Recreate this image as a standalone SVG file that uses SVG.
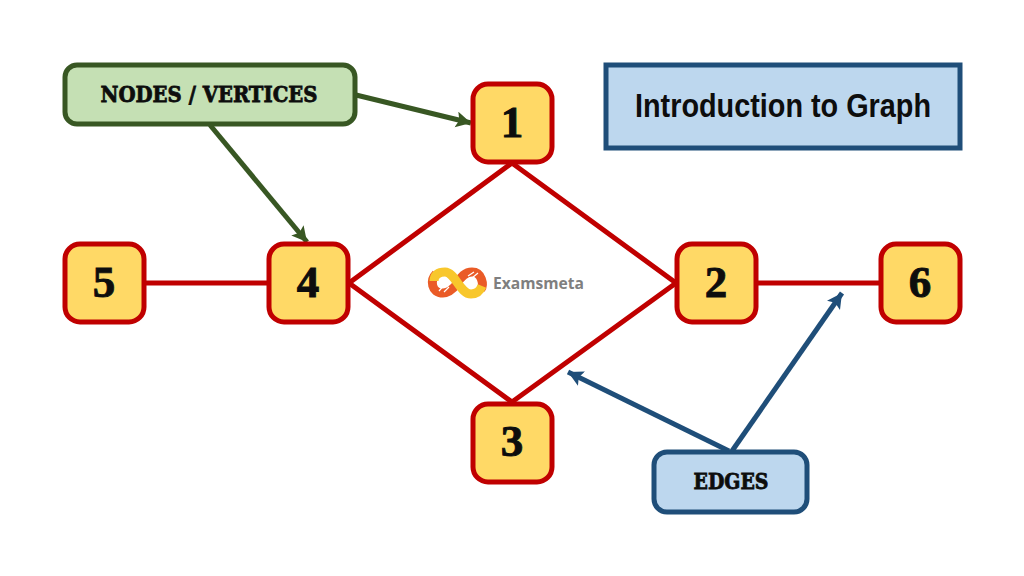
<svg xmlns="http://www.w3.org/2000/svg" width="1024" height="576" viewBox="0 0 1024 576">
<style>
.node rect{fill:#ffd966;stroke:#c00000;stroke-width:5}
.node text{font-family:"Liberation Serif",serif;font-weight:700;font-size:45px;fill:#0d0d0d;text-anchor:middle;stroke:#0d0d0d;stroke-width:.9}
.label{font-family:"DejaVu Serif",serif;font-weight:900;fill:#0d0d0d;text-anchor:middle;stroke:#0d0d0d;stroke-width:.8}
.edge{stroke:#c00000;stroke-width:5;fill:none}
.g{stroke:#385723;stroke-width:5;fill:none}
.b{stroke:#1f4e79;stroke-width:5;fill:none}
.lo{fill:none;stroke:#ea5b27;stroke-width:9}
.ly{fill:none;stroke:#f8c72c;stroke-width:9}
.lw{fill:none;stroke:#ffffff;stroke-width:1.2}
</style>
<defs>
<marker id="ag" markerUnits="userSpaceOnUse" markerWidth="18" markerHeight="18" refX="15" refY="8" orient="auto"><path d="M0 0L15 8L0 16L3 8Z" fill="#385723"/></marker>
<marker id="ab" markerUnits="userSpaceOnUse" markerWidth="18" markerHeight="18" refX="15" refY="8" orient="auto"><path d="M0 0L15 8L0 16L3 8Z" fill="#1f4e79"/></marker>
</defs>
<rect width="1024" height="576" fill="#ffffff"/>
<g id="connectors">
<path class="edge" d="M145 283H268"/>
<path class="edge" d="M757 283H880"/>
<path class="edge" d="M349 283L512 163L676 283L512 402Z"/>
<path class="g" d="M356 95L471 123" marker-end="url(#ag)"/>
<path class="g" d="M210 125L307 242" marker-end="url(#ag)"/>
<path class="b" d="M729 451L568 372" marker-end="url(#ab)"/>
<path class="b" d="M732 451L842 293" marker-end="url(#ab)"/>
</g>
<g id="node-1" class="node"><rect x="473" y="84" width="79" height="78" rx="15"/><text x="512" y="137">1</text></g>
<g id="node-2" class="node"><rect x="677" y="244" width="79" height="78" rx="15"/><text x="716" y="297">2</text></g>
<g id="node-3" class="node"><rect x="473" y="404" width="79" height="78" rx="15"/><text x="512" y="456">3</text></g>
<g id="node-4" class="node"><rect x="269" y="244" width="79" height="78" rx="15"/><text x="308" y="297">4</text></g>
<g id="node-5" class="node"><rect x="65" y="244" width="79" height="78" rx="15"/><text x="104" y="297">5</text></g>
<g id="node-6" class="node"><rect x="881" y="244" width="79" height="78" rx="15"/><text x="920" y="297">6</text></g>
<g id="label-nodes"><rect x="65" y="65" width="290" height="59" rx="12" fill="#c5e0b4" stroke="#385723" stroke-width="5"/><text class="label" x="209" y="102" font-size="22" textLength="217" lengthAdjust="spacingAndGlyphs">NODES / VERTICES</text></g>
<g id="title"><rect x="606" y="65" width="354" height="83" fill="#bdd7ee" stroke="#1f4e79" stroke-width="5"/><text x="783" y="117" font-family="'Liberation Sans',sans-serif" font-weight="700" font-size="33" fill="#0d0d0d" text-anchor="middle" textLength="296" lengthAdjust="spacingAndGlyphs">Introduction to Graph</text></g>
<g id="label-edges"><rect x="654" y="452" width="153" height="60" rx="13" fill="#bdd7ee" stroke="#1f4e79" stroke-width="5"/><text class="label" x="731" y="489" font-size="22" textLength="75" lengthAdjust="spacingAndGlyphs">EDGES</text></g>
<g id="logo">
<path class="lo" d="M436 274C430 280 431 293 443 293C449 293 453 289 457 284"/>
<path class="lo" d="M457 283C461 277 465 272 472 272C482 272 484 285 481 289"/>
<path class="ly" d="M434 281C434 275 438 272 445 272C455 272 460 294 471 294C476 294 480 291 482 286"/>
<path class="lw" d="M439 291L445 284M444 292L449 287M468 276L474 272M472 278L478 273"/>
<text x="493" y="289" font-family="'Open Sans',sans-serif" font-weight="700" font-size="16" fill="#7f7f7f" textLength="91" lengthAdjust="spacingAndGlyphs">Examsmeta</text>
</g>
</svg>
